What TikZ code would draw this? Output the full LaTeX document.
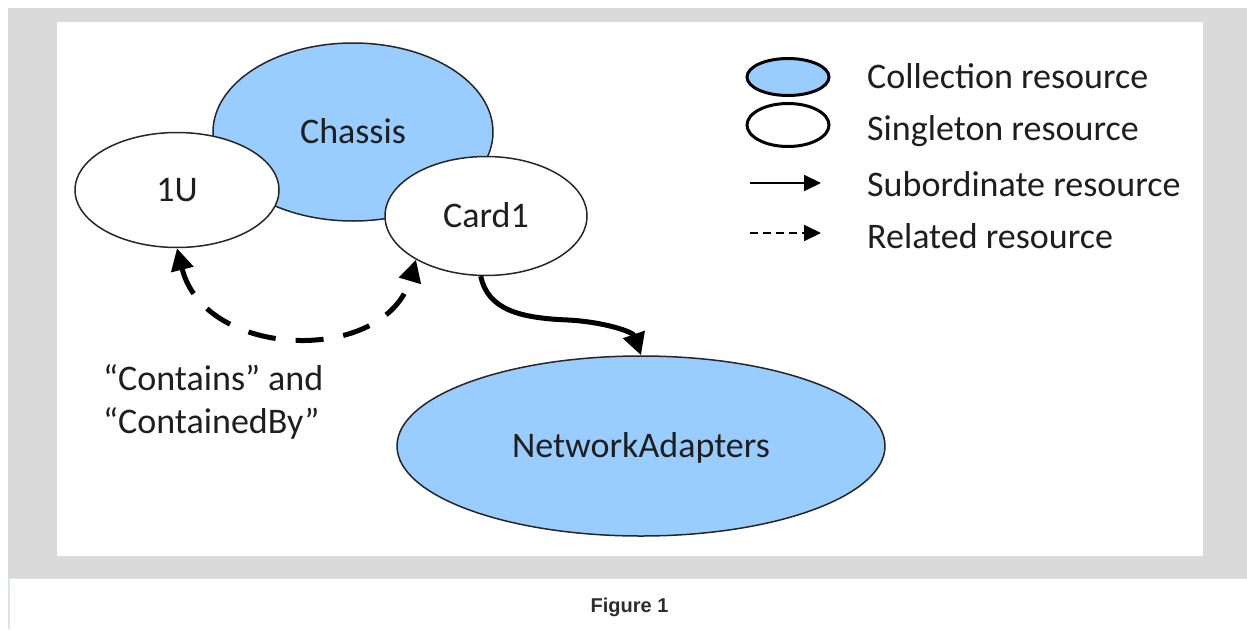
\documentclass[tikz,border=0pt]{standalone}
\usepackage{fontspec}
\setmainfont{Carlito}
\newfontfamily\capfont{Liberation Sans}
\usetikzlibrary{shapes.geometric,arrows.meta}
\definecolor{bandgray}{RGB}{218,218,218}
\definecolor{edgegray}{RGB}{221,227,232}
\definecolor{collblue}{RGB}{153,204,255}
\definecolor{txt}{RGB}{30,30,30}
\definecolor{captxt}{RGB}{45,45,45}
\begin{document}
\begin{tikzpicture}[x=1pt,y=-1pt,
  res/.style={ellipse, draw=black!85, line width=1.5pt, inner sep=0pt,
    text height=23pt, text depth=0pt, font=\fontsize{36}{40}\selectfont, text=txt},
  coll/.style={res, fill=collblue},
  single/.style={res, fill=white},
  legcoll/.style={ellipse, draw=black, line width=3pt, fill=collblue,
    minimum width=82pt, minimum height=37pt, inner sep=0pt},
  legsingle/.style={ellipse, draw=black, line width=3pt, fill=white,
    minimum width=82pt, minimum height=43pt, inner sep=0pt},
  legtext/.style={anchor=base west, font=\fontsize{36}{40}\selectfont, text=txt, inner sep=0pt},
  subarrow/.style={line width=5pt, -{Triangle[length=22pt,width=22pt]}},
  relarrow/.style={line width=5pt, dash pattern=on 28pt off 20pt,
    {Triangle[length=22pt,width=22pt]}-{Triangle[length=22pt,width=22pt]}},
  legsub/.style={line width=2pt, -{Triangle[length=17pt,width=16pt]}},
  legrel/.style={line width=2pt, dash pattern=on 8pt off 5pt, -{Triangle[length=17pt,width=16pt]}}
]
\useasboundingbox (0,0) rectangle (1247,629);
% page frame
\fill[white] (0,0) rectangle (1247,629);
\fill[edgegray] (8,8) rectangle (10,629);
\fill[bandgray] (8,8) rectangle (1247,578);
\draw[edgegray, line width=1pt] (10,578.5) -- (1247,578.5);
\fill[white] (57,22) rectangle (1203,556);

% main diagram
\node[coll, minimum width=280pt, minimum height=178pt] (chassis) at (353,132) {Chassis};
\node[single, minimum width=204pt, minimum height=115pt] (oneu) at (177,190) {1U};
\node[single, minimum width=202pt, minimum height=119pt] (card) at (486,216) {Card1};
\node[coll, minimum width=488pt, minimum height=180pt] (na) at (641,446) {NetworkAdapters};

\coordinate (m) at (568,320);
\draw[subarrow] (card.265) .. controls (488,310) and (520,318) .. (m)
  .. controls (605,322) and (633,332) .. (na.north);
\draw[relarrow] (oneu.south) .. controls (205,360) and (385,365) .. (card.212);

\node[legtext] (lblA) at (103,390) {“Contains” and};
\node[legtext] (lblB) at (103,433) {“ContainedBy”};

% legend
\node[legcoll] (lc) at (788,77) {};
\node[legsingle] (ls) at (788,125) {};
\coordinate (sa) at (750,183);
\coordinate (sb) at (821,183);
\draw[legsub] (sa) -- (sb);
\coordinate (ra) at (750,233);
\coordinate (rb) at (821,233);
\draw[legrel] (ra) -- (rb);
\node[legtext] (t1) at (867,88) {Collection resource};
\node[legtext] (t2) at (867,140) {Singleton resource};
\node[legtext] (t3) at (867,196) {Subordinate resource};
\node[legtext] (t4) at (867,248) {Related resource};

% caption
\node[font=\capfont\bfseries\fontsize{20}{24}\selectfont, text=captxt, anchor=base, inner sep=0pt]
  (cap) at (629.5,612) {Figure 1};
\end{tikzpicture}
\end{document}
